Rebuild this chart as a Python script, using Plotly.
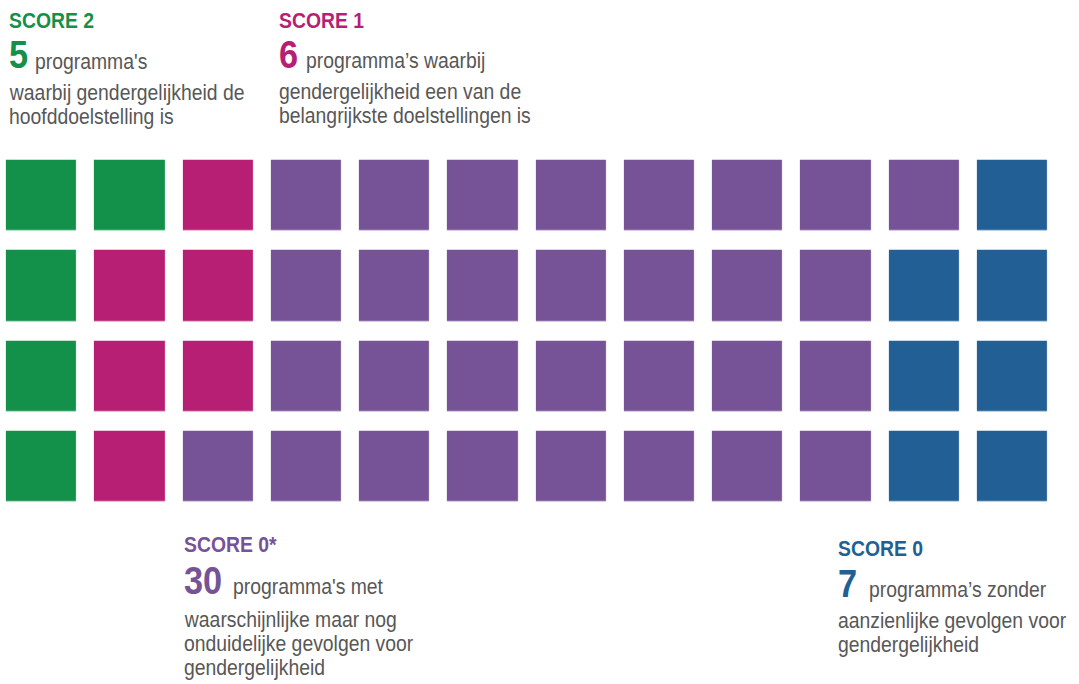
import plotly.graph_objects as go

# ---- data ----
categories = ["SCORE 2", "SCORE 1", "SCORE 0*", "SCORE 0"]
counts = [5, 6, 30, 7]
first_lines = ["programma's", "programma’s waarbij", "programma's met", "programma’s zonder"]
more_lines = [
    ["waarbij gendergelijkheid de", "hoofddoelstelling is"],
    ["gendergelijkheid een van de", "belangrijkste doelstellingen is"],
    ["waarschijnlijke maar nog", "onduidelijke gevolgen voor", "gendergelijkheid"],
    ["aanzienlijke gevolgen voor", "gendergelijkheid"],
]
n_rows = 4
n_cols = 12

# ---- style ----
colors = ["#13904A", "#B61F74", "#765296", "#215F94"]
text_gray = "#575757"
FONT = "Liberation Sans, Arial, sans-serif"
W, H = 1079, 684

# build waffle grid, column-major fill (top to bottom, then left to right)
codes = []
for i, c in enumerate(counts):
    codes += [i] * c
z = [[None] * n_cols for _ in range(n_rows)]
for k, code in enumerate(codes):
    col, row = divmod(k, n_rows)
    z[row][col] = code

ncat = len(colors)
colorscale = []
for i, col in enumerate(colors):
    colorscale.append([i / ncat, col])
    colorscale.append([(i + 1) / ncat, col])

fig = go.Figure(go.Heatmap(
    z=z, x=list(range(n_cols)), y=list(range(n_rows)),
    zmin=-0.5, zmax=ncat - 0.5,
    colorscale=colorscale, showscale=False,
    xgap=17.9, ygap=19.6, hoverinfo="skip",
))

# axes mapping: 88.27 px per column, 90.3 px per row
px_col, px_row = 88.27, 90.3
x0 = -(6.8 + 35.2) / px_col
y0 = -(160.5 + 35.35) / px_row
fig.update_xaxes(range=[x0, x0 + W / px_col], visible=False, fixedrange=True)
fig.update_yaxes(range=[y0 + H / px_row, y0], visible=False, fixedrange=True)

# ---- text layout (pixels) ----
label_x = [9, 279, 184, 838]
label_base = [28, 28, 552, 556]
num_base = [68.5, 68, 594, 597]
text_x = [35, 306, 233, 869]
line_base = [[100, 123.5], [99, 122.5], [627, 651, 674.5], [628, 652]]
LABEL_FS, NUM_FS, BODY_FS = 22, 39, 22
ASC = 0.905


def add_text(txt, px, baseline, size, color, bold=False):
    top = baseline - ASC * size
    t = f"<b>{txt}</b>" if bold else txt
    fig.add_annotation(
        text=t, x=px / W, y=1 - top / H, xref="paper", yref="paper",
        xanchor="left", yanchor="top", showarrow=False, align="left",
        borderpad=0, borderwidth=0,
        font=dict(family=FONT, size=size, color=color),
    )


for i in range(len(categories)):
    add_text(categories[i], label_x[i], label_base[i], LABEL_FS, colors[i], bold=True)
    add_text(str(counts[i]), label_x[i], num_base[i], NUM_FS, colors[i], bold=True)
    add_text(first_lines[i], text_x[i], num_base[i], BODY_FS, text_gray)
    for ln, b in zip(more_lines[i], line_base[i]):
        add_text(ln, label_x[i], b, BODY_FS, text_gray)

fig.update_layout(
    width=W, height=H, margin=dict(l=0, r=0, t=0, b=0, pad=0),
    paper_bgcolor="white", plot_bgcolor="white", showlegend=False,
)

# page: no body margin; condensed look for the (narrow) typeface of the original
post = (
    "document.body.style.margin='0';"
    "var s=document.createElement('style');"
    "s.textContent='.annotation-text{transform-box:fill-box;transform-origin:0 0;transform:scaleX(0.88);}';"
    "document.head.appendChild(s);"
)
fig.write_html("out.html", config={"displayModeBar": False}, post_script=post)
